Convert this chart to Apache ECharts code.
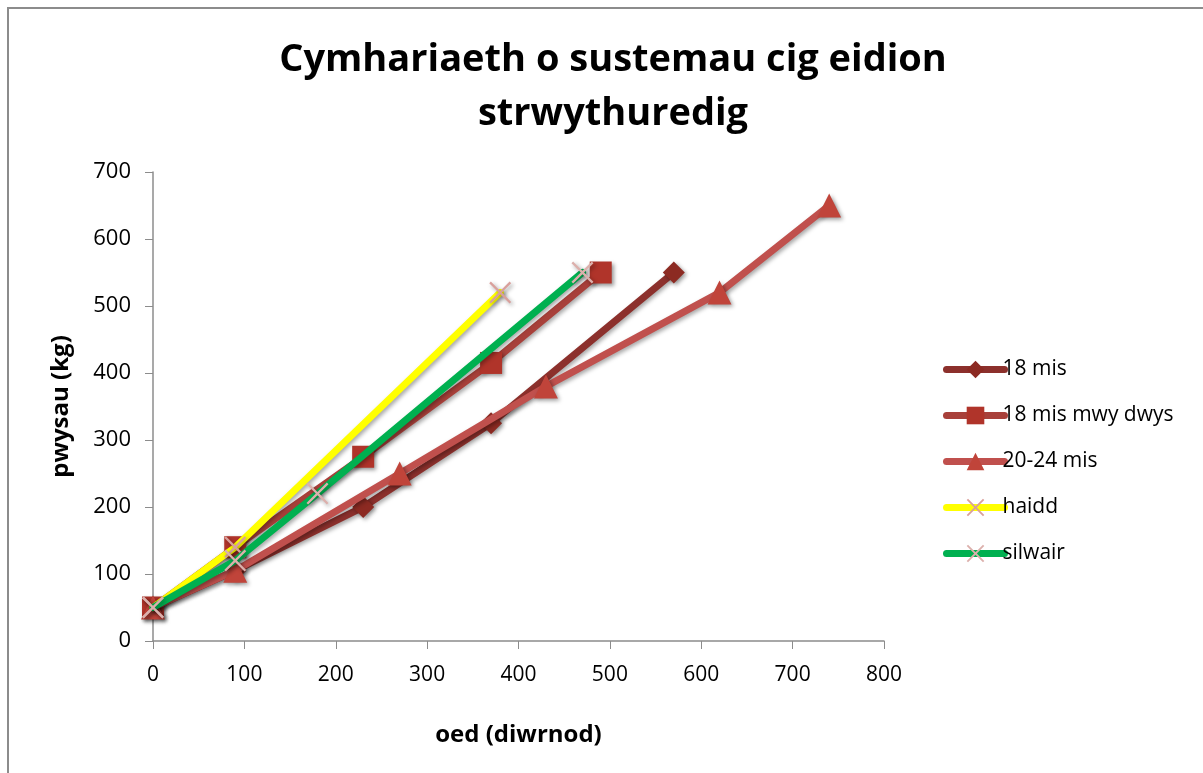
<!DOCTYPE html>
<html>
<head>
<meta charset="utf-8">
<script src="https://cdn.jsdelivr.net/npm/echarts@6/dist/echarts.min.js"></script>
<style>
html,body{margin:0;padding:0;background:#fff;}
#frame{position:absolute;left:7px;top:7px;width:1210px;height:780px;border:2px solid #8c8c8c;box-sizing:border-box;}
#c{position:absolute;left:0;top:0;width:1203px;height:773px;}
</style>
</head>
<body>
<div id="frame"></div>
<div id="c"></div>
<script>
const seriesNames = ['18 mis', '18 mis mwy dwys', '20-24 mis', 'haidd', 'silwair'];
const mis18 = [[0,50],[90,105],[230,200],[370,325],[570,550]];
const mis18dwys = [[0,50],[90,140],[230,275],[370,415],[490,550]];
const mis2024 = [[0,50],[90,105],[270,250],[430,380],[620,520],[740,650]];
const haidd = [[0,50],[90,140],[380,520]];
const silwair = [[0,50],[90,120],[180,220],[470,550]];
const xTicks = [0,100,200,300,400,500,600,700,800];
const yTicks = [0,100,200,300,400,500,600,700];

const cross = 'path://M0,1.5L1.5,0L10,8.5L18.5,0L20,1.5L11.5,10L20,18.5L18.5,20L10,11.5L1.5,20L0,18.5L8.5,10Z';
const font = "'Open Sans',sans-serif";

function mk(name, data, color, symbol, size, symColor, z){
  return {
    name, type:'line', data, symbol, symbolSize:size, z,
    lineStyle:{color, width:7, shadowColor:'rgba(0,0,0,0.35)', shadowBlur:4, shadowOffsetX:2, shadowOffsetY:2, cap:'round'},
    itemStyle:{color:symColor, borderColor:symColor, borderWidth:0, shadowColor:'rgba(0,0,0,0.4)', shadowBlur:4, shadowOffsetX:2, shadowOffsetY:2},
    emphasis:{disabled:true}, animation:false
  };
}

const chart = echarts.init(document.getElementById('c'));
chart.setOption({
  backgroundColor:'transparent',
  title:{
    text:'Cymhariaeth o sustemau cig eidion\nstrwythuredig',
    left:608, top:28, textAlign:'center',
    textStyle:{fontFamily:font, fontWeight:'bold', fontSize:38, lineHeight:54, color:'#000'}
  },
  grid:{left:153, top:172, width:731, height:469, containLabel:false},
  legend:{
    orient:'vertical', left:938, top:354, itemGap:25, itemWidth:58, itemHeight:22,
    data:seriesNames,
    lineStyle:{width:7, cap:'round', shadowBlur:0, shadowOffsetX:0, shadowOffsetY:0},
    itemStyle:{shadowBlur:0, shadowOffsetX:0, shadowOffsetY:0},
    textStyle:{fontFamily:font, fontSize:21, color:'#000', padding:[0,0,0,-7]}
  },
  xAxis:{
    type:'value', min:0, max:800, interval:100,
    name:'oed (diwrnod)', nameLocation:'middle', nameGap:82,
    nameTextStyle:{fontFamily:font, fontWeight:'bold', fontSize:24, color:'#000'},
    axisLine:{show:true, lineStyle:{color:'#8c8c8c', width:1.5}},
    axisTick:{show:true, length:8, lineStyle:{color:'#8c8c8c'}},
    axisLabel:{fontFamily:font, fontSize:21, color:'#000', margin:24,
      formatter:v=> xTicks.includes(v) ? String(v) : ''},
    splitLine:{show:false}
  },
  yAxis:{
    type:'value', min:0, max:700, interval:100,
    name:'pwysau (kg)', nameLocation:'middle', nameGap:80,
    nameTextStyle:{fontFamily:font, fontWeight:'bold', fontSize:24, color:'#000'},
    axisLine:{show:true, lineStyle:{color:'#8c8c8c', width:1.5}},
    axisTick:{show:true, length:8, lineStyle:{color:'#8c8c8c'}},
    axisLabel:{fontFamily:font, fontSize:22, color:'#000', margin:22,
      formatter:v=> yTicks.includes(v) ? String(v) : ''},
    splitLine:{show:false}
  },
  series:[
    mk(seriesNames[0], mis18, '#8c302c', 'diamond', 22, '#8c2a22', 2),
    mk(seriesNames[1], mis18dwys, '#a8403a', 'rect', 22, '#b0342a', 3),
    mk(seriesNames[2], mis2024, '#c0504d', 'triangle', 24, '#c0443a', 4),
    mk(seriesNames[3], haidd, '#ffff00', cross, 22, '#d9a09c', 5),
    mk(seriesNames[4], silwair, '#00b050', cross, 22, '#dcb0ac', 6)
  ]
});
</script>
</body>
</html>
